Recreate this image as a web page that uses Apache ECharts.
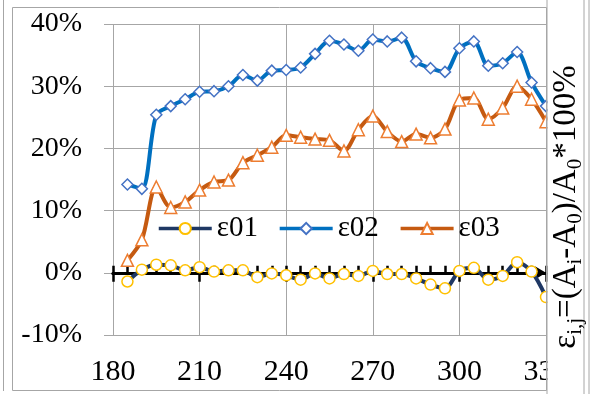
<!DOCTYPE html>
<html>
<head>
<meta charset="utf-8">
<script src="https://cdn.jsdelivr.net/npm/echarts@6/dist/echarts.min.js"></script>
<style>
  html, body { margin: 0; padding: 0; background: #fff; }
  #chart { width: 590px; height: 394px; }
</style>
</head>
<body>
<div id="chart"></div>
<script>
/** measurement positions */
const xValues = [185, 190, 195, 200, 205, 210, 215, 220, 225, 230, 235, 240, 245, 250, 255,
  260, 265, 270, 275, 280, 285, 290, 295, 300, 305, 310, 315, 320, 325, 330];

/** series values, % */
const e01 = [-1.4, 0.5, 1.3, 1.2, 0.4, 0.9, 0.2, 0.4, 0.4, -0.7, -0.1, -0.4, -1.1, -0.1, -0.9,
  -0.2, -0.5, 0.3, -0.2, -0.2, -0.9, -1.9, -2.5, 0.3, 0.8, -1.1, -0.5, 1.7, 0.2, -3.9];
const e02 = [14.2, 13.5, 25.4, 26.8, 27.9, 29.1, 29.2, 30.0, 31.8, 30.9, 32.5, 32.6, 33.0, 35.2, 37.3,
  36.7, 35.7, 37.5, 37.2, 37.8, 34.0, 32.9, 32.3, 36.1, 37.2, 33.3, 33.7, 35.5, 30.6, 26.8];
const e03 = [2.0, 5.3, 13.8, 10.5, 11.4, 13.3, 14.6, 14.9, 17.7, 18.9, 20.2, 22.1, 21.8, 21.5, 21.3,
  19.6, 23.0, 25.2, 22.7, 21.1, 22.3, 21.7, 23.1, 27.8, 28.1, 24.7, 26.5, 30.0, 27.9, 24.3];

/** series names */
const names = ["ε01", "ε02", "ε03"];

/** axis ticks */
const xTicks = [180, 210, 240, 270, 300, 330];
const yTicks = [-10, 0, 10, 20, 30, 40];

const font = "Liberation Serif";
const gridColor = "#a6a6a6";

const toPoints = (values) => xValues.map((x, i) => [x, values[i]]);

const makeSeries = (name, values, symbol, size, lineColor, markerColor) => ({
  name,
  type: "line",
  xAxisIndex: 1,
  yAxisIndex: 1,
  data: toPoints(values),
  smooth: 0.3,
  symbol,
  symbolSize: size,
  showAllSymbol: true,
  lineStyle: { color: lineColor, width: 4 },
  itemStyle: { color: "#fff", borderColor: markerColor, borderWidth: 1.5 },
});

const chart = echarts.init(document.getElementById("chart"));

chart.setOption({
  animation: false,
  grid: [
    /** horizontal grid lines + y labels */
    { left: 104, top: 24, width: 442, height: 311, outerBoundsMode: "none" },
    /** data area, starts at x = 180 */
    { left: 113, top: 24, width: 433, height: 311, outerBoundsMode: "none" },
  ],
  xAxis: [
    { gridIndex: 0, type: "value", min: 177, max: 330, show: false },
    {
      gridIndex: 1,
      type: "value",
      position: "bottom",
      min: xTicks[0],
      max: xTicks[xTicks.length - 1],
      interval: 30,
      axisLine: { show: false, onZero: false },
      axisTick: { show: false },
      splitLine: { lineStyle: { color: gridColor, width: 1 } },
      axisLabel: { color: "#000", fontFamily: font, fontSize: 30, margin: 22 },
    },
    /** black zero line with small ticks and arrow */
    {
      gridIndex: 1,
      type: "value",
      position: "bottom",
      z: 1,
      min: xTicks[0],
      max: xTicks[xTicks.length - 1],
      interval: 5,
      axisLine: {
        onZero: true,
        onZeroAxisIndex: 1,
        symbol: ["none", "arrow"],
        symbolSize: [10, 11],
        lineStyle: { color: "#000", width: 3 },
      },
      axisTick: { inside: true, length: 7, lineStyle: { color: "#000", width: 2.5 } },
      axisLabel: { show: false },
      splitLine: { show: false },
    },
    /** major ticks below the zero line */
    {
      gridIndex: 1,
      type: "value",
      position: "bottom",
      z: 1,
      min: xTicks[0],
      max: xTicks[xTicks.length - 1],
      interval: 30,
      axisLine: {
        onZero: true,
        onZeroAxisIndex: 1,
        lineStyle: { color: "#000", width: 3 },
      },
      axisTick: { inside: false, length: 9, lineStyle: { color: "#000", width: 2.5 } },
      axisLabel: { show: false },
      splitLine: { show: false },
    },
  ],
  yAxis: [
    {
      gridIndex: 0,
      type: "value",
      min: yTicks[0],
      max: yTicks[yTicks.length - 1],
      interval: 10,
      axisLine: { show: false, onZero: false },
      axisTick: { show: false },
      splitLine: { lineStyle: { color: gridColor, width: 1 } },
      axisLabel: {
        formatter: "{value}%",
        color: "#000",
        fontFamily: font,
        fontSize: 28,
        margin: 22,
      },
    },
    {
      gridIndex: 1,
      type: "value",
      min: yTicks[0],
      max: yTicks[yTicks.length - 1],
      interval: 10,
      show: false,
      axisLine: { onZero: false },
    },
  ],
  legend: {
    data: names,
    left: 157,
    top: 214,
    padding: 0,
    itemWidth: 53,
    itemHeight: 14,
    itemGap: 20,
    lineStyle: { width: 3.5 },
    textStyle: { color: "#000", fontFamily: font, fontSize: 29 },
  },
  series: [
    makeSeries(names[0], e01, "circle", 11, "#1f3864", "#ffc000"),
    makeSeries(names[1], e02, "diamond", 11, "#0070c0", "#4472c4"),
    makeSeries(names[2], e03, "triangle", 12, "#c55a11", "#ed7d31"),
  ],
  graphic: [
    /** mask right of the chart box */
    { type: "rect", z: 100, shape: { x: 547.5, y: 0, width: 50, height: 394 }, style: { fill: "#fff" } },
    { type: "rect", z: 101, shape: { x: 12.5, y: 7.5, width: 534, height: 383 }, style: { fill: "none", stroke: gridColor } },
    { type: "line", z: 101, shape: { x1: 3.5, y1: 0, x2: 3.5, y2: 391 }, style: { stroke: gridColor } },
    { type: "line", z: 101, shape: { x1: 547, y1: 0, x2: 547, y2: 394 }, style: { stroke: gridColor } },
    { type: "line", z: 101, shape: { x1: 584, y1: 0, x2: 584, y2: 394 }, style: { stroke: gridColor } },
    { type: "line", z: 101, shape: { x1: 589, y1: 0, x2: 589, y2: 394 }, style: { stroke: gridColor } },
    {
      type: "text",
      z: 102,
      x: 566,
      y: 207,
      rotation: Math.PI / 2,
      style: {
        text: "{n|ε}{s|i,j}{n|=(A}{s|i}{n|-A}{s|0}{n|)/A}{s|0}{n|*100%}",
        align: "center",
        verticalAlign: "middle",
        rich: {
          n: { fontSize: 33, fontFamily: font, fill: "#000", lineHeight: 40 },
          s: { fontSize: 21, fontFamily: font, fill: "#000", lineHeight: 20, verticalAlign: "bottom" },
        },
      },
    },
  ],
});
</script>
</body>
</html>
